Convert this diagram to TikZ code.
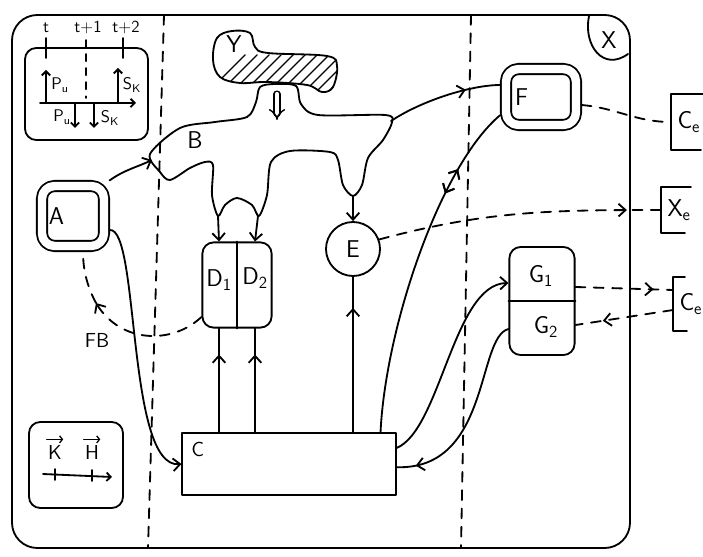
\documentclass[tikz,border=0pt]{standalone}
\usetikzlibrary{arrows.meta,positioning,decorations.markings}

\begin{document}
\begin{tikzpicture}[x=0.025cm, y=-0.025cm, line width=1.3pt, line cap=round, line join=round,
  font=\sffamily\LARGE,
  tip/.style={-{Straight Barb[length=5pt,width=9pt]}},
  dsh/.style={dash pattern=on 7pt off 6pt},
  midtip/.style={postaction={decorate}, decoration={markings, mark=at position #1 with {\arrow{Straight Barb[length=5pt,width=9pt]}}}},
  midrev/.style={postaction={decorate}, decoration={markings, mark=at position #1 with {\arrowreversed{Straight Barb[length=5pt,width=9pt]}}}},
  boxd/.style={draw, rounded corners=8pt},
  dbl/.style={draw, double, double distance=6pt, rounded corners=9pt, outer sep=4pt},
  vecbar/.style={line width=0.9pt, shorten <=3pt, shorten >=3pt, -{Straight Barb[length=2pt,width=5pt]}},
  small/.style={font=\sffamily\large}]
\useasboundingbox (0,0) rectangle (703,557);

\draw[rounded corners=18pt] (12,15) rectangle (630,548);
\draw[dsh] (164,15) -- (148,548);
\draw[dsh] (471,15) -- (461,548);
\draw (589,16) .. controls (583,45) and (603,72) .. (628,54);
\node (X) at (609,40) {X};

% time box
\draw[rounded corners=8pt] (25,48) rectangle (148,140);
\node[small] (t0) at (46,28) {$\mathsf{t}$};
\node[small] (t1) at (88,28) {$\mathsf{t{+}1}$};
\node[small] (t2) at (126,28) {$\mathsf{t{+}2}$};
\draw (46,38) -- (46,58);
\draw (123,38) -- (123,58);
\draw[dash pattern=on 5pt off 5pt] (86,40) -- (86,98);
\draw[-{Straight Barb[length=3pt,width=6pt]}] (40,103) -- (136,103);
\draw[-{Straight Barb[length=3pt,width=6pt]}] (46,103) -- (46,70);
\draw[-{Straight Barb[length=3pt,width=6pt]}] (118,103) -- (118,68);
\draw[-{Straight Barb[length=3pt,width=6pt]}] (75,103) -- (75,128);
\draw[-{Straight Barb[length=3pt,width=6pt]}] (94,103) -- (94,128);
\node[small] (pu1) at (60,85) {$\mathsf{P_u}$};
\node[small] (sk1) at (132,85) {$\mathsf{S_K}$};
\node[small] (pu2) at (62,117) {$\mathsf{P_u}$};
\node[small] (sk2) at (110,118) {$\mathsf{S_K}$};

% key box
\draw[rounded corners=8pt] (29,422) rectangle (123,508);
\node[font=\sffamily\Large] (K) at (55,452) {K};
\node[font=\sffamily\Large] (H) at (92,452) {H};
\draw[vecbar] (K.north west) -- (K.north east);
\draw[vecbar] (H.north west) -- (H.north east);
\draw[-{Straight Barb[length=3pt,width=6pt]}] (43,474) -- (112,477);
\draw (55,469) -- (55,480);
\draw (92,470) -- (92,481);

% Y
\draw plot[smooth cycle, tension=0.6] coordinates {(213,60) (217,38) (232,31) (250,33) (255,47) (268,53) (327,56) (337,66) (333,87) (322,92) (307,85) (267,82) (240,83) (220,77)};
\begin{scope}
  \clip plot[smooth cycle, tension=0.6] coordinates {(213,60) (217,38) (232,31) (250,33) (255,47) (268,53) (327,56) (337,66) (333,87) (322,92) (307,85) (267,82) (240,83) (220,77)};
  \foreach \x in {205,217,...,341}
    \draw[line width=1pt] (\x,95) -- ++(40,-40);
\end{scope}
\node (Y) at (234,44) {Y};

% B
\draw plot[smooth cycle, tension=0.5] coordinates {(150,154) (180,128) (215,122) (247,117) (256,102) (260,87) (275,84) (296,86) (301,104) (318,115) (385,115) (392,122) (383,140) (368,158) (362,185) (353,196) (343,185) (338,160) (330,152) (290,151) (271,162) (267,195) (259,216) (252,205) (237,198) (225,205) (218,216) (212,195) (213,165) (205,162) (190,168) (170,180) (160,172)};
\node (B) at (195,140) {B};
\coordinate (bw) at (152,160);
\coordinate (bne) at (391,121);
\coordinate (bd1) at (218,216);
\coordinate (bd2) at (258,216);
\coordinate (be) at (353,196);
\coordinate (yb) at (277,94);
\coordinate (bn) at (277,120);
\draw[double, double distance=3pt, line width=1pt, -{Implies}] (yb) -- (bn);

\node[dbl, minimum width=1.55cm, minimum height=1.5cm, text width=1.2cm, align=left] (A) at (73,216) {A};
\node[dbl, minimum width=1.75cm, minimum height=1.4cm, text width=1.3cm, align=left] (F) at (541,97) {F};
\node[draw, circle, minimum size=1.35cm] (E) at (353,249) {E};
\node[boxd, minimum width=1.73cm, minimum height=2.13cm] (D) at (237,285) {};
\draw (D.north) -- (D.south);
\node (D1) at (219,280) {$\mathsf{D_1}$};
\node (D2) at (255,278) {$\mathsf{D_2}$};
\node[boxd, minimum width=1.63cm, minimum height=2.7cm] (G) at (542,301) {};
\draw (G.west) -- (G.east);
\node (G1) at (541,276) {$\mathsf{G_1}$};
\node (G2) at (546,327) {$\mathsf{G_2}$};
\node[draw, minimum width=5.33cm, minimum height=1.55cm] (C) at (289,464) {};
\node[anchor=north west, font=\sffamily\Large] (Clab) at ([shift={(3pt,-3pt)}]C.north west) {C};
\node[font=\sffamily\Large] (FB) at (97,340) {FB};

\node[anchor=west, minimum height=1.35cm, inner xsep=4pt] (Ce1) at (671,122) {$\mathsf{C_e}$};
\draw ([xshift=1cm]Ce1.north west) -- (Ce1.north west) -- (Ce1.south west) -- ([xshift=0.75cm]Ce1.south west);
\node[anchor=west, minimum height=1.12cm, inner xsep=4pt] (Xe) at (661,210) {$\mathsf{X_e}$};
\draw ([xshift=0.75cm]Xe.north west) -- (Xe.north west) -- (Xe.south west) -- ([xshift=0.6cm]Xe.south west);
\node[anchor=west, minimum height=1.3cm, inner xsep=4pt] (Ce2) at (673,304) {$\mathsf{C_e}$};
\draw ([xshift=0.3cm]Ce2.north west) -- (Ce2.north west) -- (Ce2.south west) -- ([xshift=0.35cm]Ce2.south west);

\draw[tip] (A.north east) to[out=35, in=205] (bw);
\draw[tip] ([yshift=-0.35cm]A.east) .. controls +(30,-3) and +(-55,5) .. (C.west);
\coordinate (fbm) at (96,303);
\draw[dsh, tip] (D.222) .. controls +(-30,28) and +(25,40) .. (fbm);
\draw[dsh] (fbm) .. controls +(-8,-15) and +(0,20) .. ([xshift=0.25cm]A.south);
\draw[tip] (bd1) -- (D1 |- D.north);
\draw[tip] (bd2) -- (D2 |- D.north);
\draw[tip] (be) -- (E.north);
\draw[midtip=0.75] (D1 |- C.north) -- (D1 |- D.south);
\draw[midtip=0.75] (D2 |- C.north) -- (D2 |- D.south);
\draw[midtip=0.8] (E |- C.north) -- (E.south);
\draw[midtip=0.8, midrev=0.72] ([xshift=-0.4cm]C.north east) .. controls +(5,-105) and +(-60,50) .. ([yshift=-0.45cm]F.west);
\draw[midtip=0.7] (bne) .. controls +(30,-20) and +(-30,0) .. ([yshift=0.3cm]F.west);
\draw[dsh, midtip=0.88] (E.20) to[out=15, in=180] (Xe.west);
\draw[dsh] ([yshift=-0.2cm]F.east) to[out=-5, in=180] (Ce1.west);
\draw[dsh, midtip=0.8] ([yshift=0.35cm]G.east) -- ([yshift=0.35cm]Ce2.west);
\draw[dsh, midtip=0.72] ([yshift=-0.15cm]Ce2.west) -- ([yshift=-0.6cm]G.east);
\draw[tip] ([yshift=0.4cm]C.east) .. controls +(44,-18) and +(-55,1) .. ([yshift=0.45cm]G.west);
\draw[midtip=0.9] ([yshift=-0.7cm]G.west) .. controls +(-32,8) and +(94,3) .. ([yshift=-0.08cm]C.east);
\end{tikzpicture}
\end{document}
